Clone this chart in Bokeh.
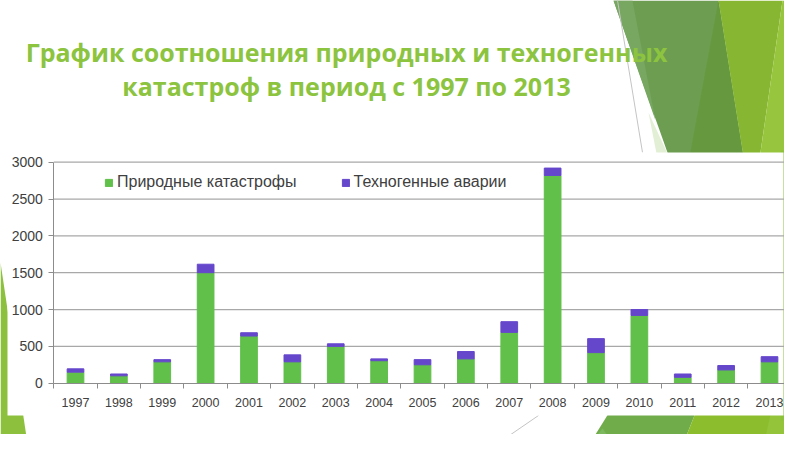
from bokeh.plotting import figure
from bokeh.models import (Range1d, LinearAxis, FixedTicker, Legend, LegendItem,
                          Label, ColumnDataSource)
from bokeh.embed import file_html
from bokeh.resources import INLINE

# ---------------- data ----------------
years = [1997, 1998, 1999, 2000, 2001, 2002, 2003, 2004, 2005,
         2006, 2007, 2008, 2009, 2010, 2011, 2012, 2013]
natural = [150, 100, 290, 1500, 640, 290, 500, 305, 250,
           330, 690, 2820, 415, 920, 80, 180, 290]
technogenic = [45, 25, 30, 115, 45, 95, 35, 25, 70,
               100, 145, 100, 190, 80, 45, 60, 70]
series_names = ["Природные катастрофы", "Техногенные аварии"]
y_ticks = [0, 500, 1000, 1500, 2000, 2500, 3000]
title_lines = ["График соотношения природных и техногенных",
               "катастроф в период с 1997 по 2013"]

# ---------------- styles / layout ----------------
GREEN = "#60c04a"
PURPLE = "#6547cc"
TITLE_GREEN = "#8cc43f"
TEXT = "#404040"
AXIS = "#8c8c8c"
GRID = "#a8a8a8"

W, H = 784, 434
PAGE0 = 0
X_FIRST = 75.0          # page x of first category centre
X_STEP = 43.375         # px per category
Y_ZERO = 382.7          # page y of value 0
Y_PER = 221.0 / 3000.0  # px per unit

x_start = years[0] - (X_FIRST - PAGE0) / X_STEP
x_end = years[0] + (PAGE0 + W - X_FIRST) / X_STEP
y_start = -(PAGE0 + H - Y_ZERO) / Y_PER
y_end = (Y_ZERO - PAGE0) / Y_PER

p = figure(width=W, height=H, x_range=Range1d(x_start, x_end),
           y_range=Range1d(y_start, y_end), x_axis_type=None, y_axis_type=None,
           toolbar_location=None, output_backend="svg", min_border=0,
           outline_line_color=None, background_fill_color="white",
           border_fill_color="white")
p.extra_x_ranges = {"px": Range1d(PAGE0, PAGE0 + W)}
p.extra_y_ranges = {"px": Range1d(PAGE0 + H, PAGE0)}

# ---------------- slide decorations (page pixel space) ----------------
deco = [
    ([0, 28, 0], [262, 450, 450], "#8dc03c"),
    ([613, 718, 750, 684], [0, 0, 200, 200], "#6c9d50"),
    ([613, 632, 655], [0, 0, 120], "#77a760"),
    ([718, 750, 681], [0, 200, 200], "#66993f"),
    ([718, 782, 753, 750], [0, 0, 200, 200], "#87b632"),
    ([782, 800, 800, 753], [0, 0, 200, 200], "#97c63e"),
    ([648, 667, 656], [112, 153, 153], "#e2efd4"),
    ([613, 698, 680, 585], [405, 405, 450, 450], "#70ad4a"),
    ([585, 602, 618], [450, 428, 450], "#7cb85e"),
    ([698, 800, 800, 680], [405, 405, 450, 450], "#8cbd2d"),
    ([772, 800, 800, 762], [405, 405, 450, 450], "#93c43a"),
    ([780, 800, 800, 780], [150, 150, 420, 420], "#8dc03b"),
]
p.patches(xs=[d[0] for d in deco], ys=[d[1] for d in deco],
          fill_color=[d[2] for d in deco], line_color=None,
          x_range_name="px", y_range_name="px")
p.segment(x0=[617, 538], y0=[0, 415], x1=[642, 487], y1=[152, 450],
          line_color="#c4c4c4", line_width=1,
          x_range_name="px", y_range_name="px")

# white chart box
p.quad(left=[7], right=[783], top=[152], bottom=[415], fill_color="white",
       line_color=None, x_range_name="px", y_range_name="px")

# ---------------- gridlines ----------------
lo, hi = years[0] - 0.5, years[-1] + 0.5
gsrc = ColumnDataSource(dict(y=y_ticks[1:], x0=[lo] * (len(y_ticks) - 1),
                             x1=[hi] * (len(y_ticks) - 1)))
p.segment(x0="x0", x1="x1", y0="y", y1="y", source=gsrc,
          line_color=GRID, line_width=1.2)

# ---------------- bars ----------------
src = ColumnDataSource(dict(year=years, nat=natural, tech=technogenic))
bars = p.vbar_stack(["nat", "tech"], x="year", width=0.385,
                    color=[GREEN, PURPLE], source=src)

# ---------------- axes ----------------
yaxis = LinearAxis(ticker=FixedTicker(ticks=y_ticks), fixed_location=lo,
                   bounds=(y_ticks[0], y_ticks[-1]))
yaxis.axis_line_color = AXIS
yaxis.major_tick_line_color = AXIS
yaxis.major_tick_out = 5
yaxis.major_tick_in = 0
yaxis.major_label_standoff = 6
yaxis.major_label_text_font = "Liberation Sans"
yaxis.major_label_text_font_size = "14px"
yaxis.major_label_text_color = TEXT
p.add_layout(yaxis, "left")

bounds_ticks = [y - 0.5 for y in years] + [years[-1] + 0.5]
xticks = LinearAxis(ticker=FixedTicker(ticks=bounds_ticks), fixed_location=0,
                    bounds=(lo, hi))
xticks.axis_line_color = AXIS
xticks.major_tick_line_color = AXIS
xticks.major_tick_out = 5
xticks.major_tick_in = 0
xticks.major_label_text_alpha = 0
xticks.major_label_text_font_size = "1px"
p.add_layout(xticks, "below")

xlabels = LinearAxis(ticker=FixedTicker(ticks=years), fixed_location=0)
xlabels.axis_line_color = None
xlabels.major_tick_line_color = None
xlabels.major_label_standoff = 9
xlabels.major_label_text_font = "Liberation Sans"
xlabels.major_label_text_font_size = "12.5px"
xlabels.major_label_text_color = TEXT
p.add_layout(xlabels, "below")

# ---------------- legend ----------------
legend = Legend(items=[LegendItem(label=series_names[0], renderers=[bars[0]]),
                       LegendItem(label=series_names[1], renderers=[bars[1]])],
                orientation="horizontal", location=(104, 243),
                padding=0, margin=0, spacing=44, label_standoff=4,
                glyph_width=9, glyph_height=9, label_height=18,
                border_line_color=None, background_fill_alpha=0,
                label_text_font="Liberation Sans", label_text_font_size="16px",
                label_text_color=TEXT)
p.add_layout(legend)

# ---------------- title ----------------
for i, line in enumerate(title_lines):
    p.add_layout(Label(x=346, y=51 + 34 * i, x_range_name="px", y_range_name="px",
                       text=line, text_align="center", text_baseline="middle",
                       text_font="Open Sans", text_font_style="bold",
                       text_font_size="25px", text_color=TITLE_GREEN))

open("out.html", "w").write(file_html(p, INLINE))
